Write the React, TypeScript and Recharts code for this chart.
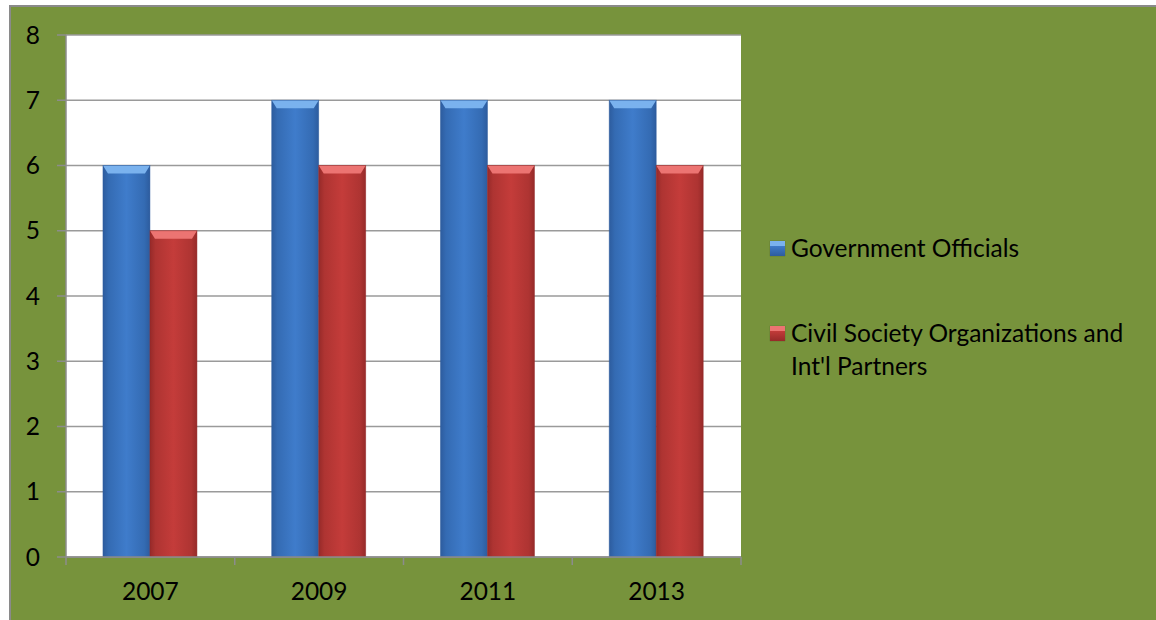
import { BarChart, Bar, XAxis, YAxis, CartesianGrid } from "recharts";

const years = ["2007", "2009", "2011", "2013"];
const governmentOfficials = [6, 7, 7, 7];
const civilSociety = [5, 6, 6, 6];
const yTicks = [0, 1, 2, 3, 4, 5, 6, 7, 8];

const seriesNames = ["Government Officials", "Civil Society Organizations and Int'l Partners"];

const data = years.map((y, i) => ({
  year: y,
  gov: governmentOfficials[i],
  cso: civilSociety[i],
}));

const W = 1156;
const H = 620;
const XH = 30;
const M = { top: 35, right: 415, bottom: 63 - XH, left: 0 };
const YW = 66;
const FONT = "Lato, 'Liberation Sans', sans-serif";
const FS = 24.5;
const GREEN = "#77933C";

const palette = {
  gov: { mid: "#3F7CCB", edge: "#2D5C9E", top: "#7AB2EE", side: "#346BB3" },
  cso: { mid: "#C43C3A", edge: "#962A29", top: "#EC7472", side: "#AE3432" },
};

function BevelBar(props: any) {
  const { x, y, width, height, dataKey } = props;
  if (!height || height <= 0) return null;
  const c = dataKey === "gov" ? palette.gov : palette.cso;
  const b = Math.min(8, height / 2);
  const s = 5;
  return (
    <g>
      <rect x={x} y={y} width={width} height={height} fill={`url(#grad-${dataKey})`} />
      <polygon
        points={`${x},${y} ${x + width},${y} ${x + width - s},${y + b} ${x + s},${y + b}`}
        fill={c.top}
      />
      <rect x={x} y={y} width={width} height={height} fill="none" stroke={c.edge} strokeWidth={0.8} strokeOpacity={0.6} />
    </g>
  );
}

const bandWidth = (W - M.left - M.right - YW) / years.length;

function XTick(props: any) {
  const { x, payload, index } = props;
  const axisY = H - M.bottom - XH;
  return (
    <g>
      <line x1={x - bandWidth / 2} y1={axisY} x2={x - bandWidth / 2} y2={axisY + 8} stroke="#8C8C8C" strokeWidth={1.5} />
      {index === years.length - 1 && (
        <line x1={x + bandWidth / 2} y1={axisY} x2={x + bandWidth / 2} y2={axisY + 8} stroke="#8C8C8C" strokeWidth={1.5} />
      )}
      <text x={x} y={axisY + 43} textAnchor="middle" fontFamily={FONT} fontSize={FS} fill="#000">
        {payload.value}
      </text>
    </g>
  );
}

function LegendBox() {
  const items = [
    { key: "gov", label: seriesNames[0] },
    { key: "cso", label: seriesNames[1] },
  ];
  return (
    <div style={{ position: "absolute", left: 770, top: 231, fontFamily: FONT, fontSize: FS, color: "#000", width: 370 }}>
      {items.map((it, i) => {
        const c = it.key === "gov" ? palette.gov : palette.cso;
        return (
          <div key={it.key} style={{ display: "flex", alignItems: "flex-start", marginTop: i === 0 ? 0 : 52, lineHeight: "33px" }}>
            <span
              style={{
                display: "inline-block",
                width: 15,
                height: 15,
                marginTop: 10,
                marginRight: 6,
                flexShrink: 0,
                background: `linear-gradient(180deg, ${c.top} 0%, ${c.top} 30%, ${c.mid} 31%, ${c.edge} 100%)`,
                boxShadow: "0 0 1px rgba(0,0,0,0.4)",
              }}
            />
            <span style={{ width: 345 }}>{it.label}</span>
          </div>
        );
      })}
    </div>
  );
}

export default function App() {
  return (
    <div style={{ position: "absolute", left: 0, top: 0, width: W, height: H, background: "#fff", overflow: "hidden" }}>
      <div
        style={{
          position: "absolute",
          left: 9,
          top: 5,
          width: W - 9,
          height: H - 5,
          background: GREEN,
          borderLeft: "2px solid #8A8A8A",
          borderTop: "2px solid #8A8A8A",
          boxSizing: "border-box",
        }}
      />
      <div style={{ position: "absolute", left: 0, top: 0 }}>
        <BarChart
          width={W}
          height={H}
          data={data}
          margin={M}
          barCategoryGap="21.9%"
          barGap={0}
        >
          <defs>
            {(["gov", "cso"] as const).map((k) => (
              <linearGradient key={k} id={`grad-${k}`} x1="0" y1="0" x2="1" y2="0">
                <stop offset="0%" stopColor={palette[k].edge} />
                <stop offset="12%" stopColor={palette[k].side} />
                <stop offset="50%" stopColor={palette[k].mid} />
                <stop offset="88%" stopColor={palette[k].side} />
                <stop offset="100%" stopColor={palette[k].edge} />
              </linearGradient>
            ))}
          </defs>
          <CartesianGrid vertical={false} fill="#FFFFFF" stroke="#9A9A9A" strokeWidth={1.5} />
          <XAxis
            dataKey="year"
            height={XH}
            tick={<XTick />}
            tickLine={false}
            axisLine={{ stroke: "#8C8C8C", strokeWidth: 1.5 }}
            interval={0}
          />
          <YAxis
            width={YW}
            domain={[0, 8]}
            ticks={yTicks}
            interval={0}
            tickSize={9}
            tickMargin={17}
            tickLine={{ stroke: "#8C8C8C", strokeWidth: 1.5 }}
            axisLine={{ stroke: "#8C8C8C", strokeWidth: 1.5 }}
            tick={{ fontFamily: FONT, fontSize: FS, fill: "#000" }}
          />
          <Bar dataKey="gov" name={seriesNames[0]} shape={<BevelBar />} isAnimationActive={false} />
          <Bar dataKey="cso" name={seriesNames[1]} shape={<BevelBar />} isAnimationActive={false} />
        </BarChart>
      </div>
      <LegendBox />
    </div>
  );
}
